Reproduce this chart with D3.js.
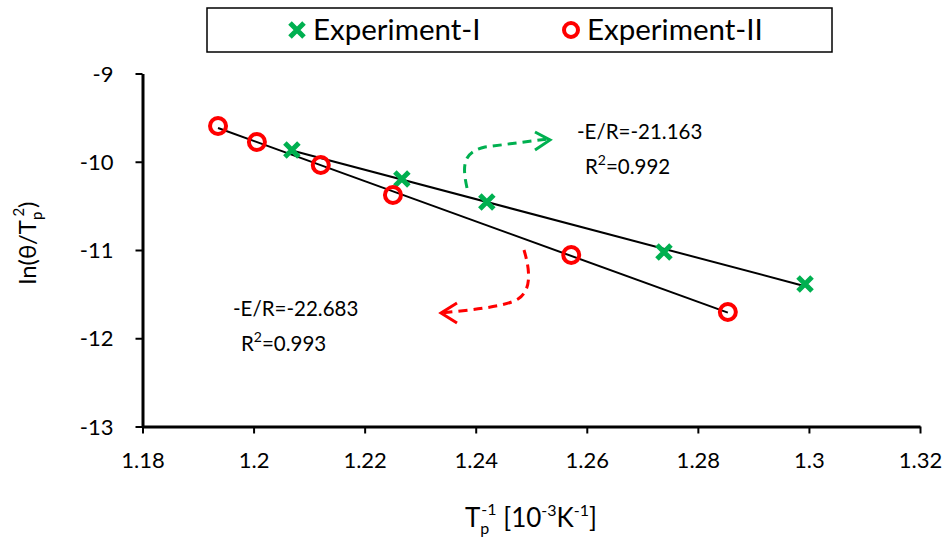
<!DOCTYPE html>
<html>
<head>
<meta charset="utf-8">
<script src="https://cdn.jsdelivr.net/npm/d3@7"></script>
<style>
  body { margin: 0; background: #fff; }
  svg { display: block; font-family: Lato, "Open Sans", sans-serif; }
</style>
</head>
<body>
<svg width="951" height="545"></svg>
<script>
// values
const exp1X = [1.2069, 1.2267, 1.2420, 1.2739, 1.2993];
const exp1Y = [-9.867, -10.195, -10.456, -11.023, -11.385];
const exp2X = [1.1936, 1.2006, 1.2121, 1.2251, 1.2572, 1.2854];
const exp2Y = [-9.595, -9.776, -10.037, -10.377, -11.057, -11.703];
const xTicks = [1.18, 1.2, 1.22, 1.24, 1.26, 1.28, 1.3, 1.32];
const yTicks = [-9, -10, -11, -12, -13];
const seriesNames = ["Experiment-I", "Experiment-II"];
const fitNotes = [["-E/R=-21.163", "0.992"], ["-E/R=-22.683", "0.993"]];

const green = "#00b050";
const red = "#ff0000";

const svg = d3.select("svg");
const x = d3.scaleLinear().domain([1.18, 1.32]).range([142.5, 920]);
const y = d3.scaleLinear().domain([-9, -13]).range([73.5, 426.5]);

// axes
const yAxis = svg.append("g")
  .attr("transform", `translate(${x(1.18)},0)`)
  .call(d3.axisLeft(y).tickValues(yTicks).tickSize(7).tickSizeOuter(0).tickFormat(d => String(d)));
const xAxis = svg.append("g")
  .attr("transform", `translate(0,${y(-13)})`)
  .call(d3.axisBottom(x).tickValues(xTicks).tickSize(7).tickSizeOuter(0).tickFormat(d => String(+d.toFixed(2))));

[yAxis, xAxis].forEach(a => {
  a.select(".domain").attr("stroke", "#000").attr("stroke-width", 3);
  a.selectAll(".tick line").attr("stroke", "#000").attr("stroke-width", 2);
  a.selectAll(".tick text").attr("fill", "#000").style("font-size", "22px").style("font-family", "Lato, sans-serif");
});
yAxis.selectAll(".tick text").attr("x", -29).attr("dy", "0.35em");
xAxis.selectAll(".tick text").attr("y", 26);

// axis titles
const xt = svg.append("text")
  .attr("x", 531).attr("y", 527)
  .attr("text-anchor", "middle")
  .style("font-size", "26px");
xt.append("tspan").text("T");
xt.append("tspan").attr("dy", 7).style("font-size", "16px").text("p");
xt.append("tspan").attr("dx", -8).attr("dy", -19).style("font-size", "16px").text("-1");
xt.append("tspan").attr("dy", 12).text(" [10");
xt.append("tspan").attr("dy", -11).style("font-size", "16px").text("-3");
xt.append("tspan").attr("dy", 11).text("K");
xt.append("tspan").attr("dy", -11).style("font-size", "16px").text("-1");
xt.append("tspan").attr("dy", 11).text("]");

const yt = svg.append("text")
  .attr("transform", "translate(36,243) rotate(-90)")
  .attr("text-anchor", "middle")
  .style("font-size", "24px");
yt.append("tspan").text("ln(θ/T");
yt.append("tspan").attr("dy", 6).style("font-size", "15px").text("p");
yt.append("tspan").attr("dx", -5).attr("dy", -18).style("font-size", "15px").text("2");
yt.append("tspan").attr("dy", 12).text(")");

// least squares trend lines
function fit(xs, ys) {
  const mx = d3.mean(xs), my = d3.mean(ys);
  const b = d3.sum(xs, (v, i) => (v - mx) * (ys[i] - my)) / d3.sum(xs, v => (v - mx) ** 2);
  const [x0, x1] = d3.extent(xs);
  return [[x0, my + b * (x0 - mx)], [x1, my + b * (x1 - mx)]];
}
const line = d3.line().x(d => x(d[0])).y(d => y(d[1]));
svg.append("path").attr("d", line(fit(exp1X, exp1Y)))
  .attr("fill", "none").attr("stroke", "#000").attr("stroke-width", 2);
svg.append("path").attr("d", line(fit(exp2X, exp2Y)))
  .attr("fill", "none").attr("stroke", "#000").attr("stroke-width", 2);

// markers
const crossPath = "M-7,-7L7,7M-7,7L7,-7";
svg.append("g").selectAll("path")
  .data(exp1X.map((v, i) => [v, exp1Y[i]]))
  .join("path")
  .attr("transform", d => `translate(${x(d[0])},${y(d[1])})`)
  .attr("d", crossPath)
  .attr("stroke", green).attr("stroke-width", 5);
svg.append("g").selectAll("circle")
  .data(exp2X.map((v, i) => [v, exp2Y[i]]))
  .join("circle")
  .attr("cx", d => x(d[0])).attr("cy", d => y(d[1]))
  .attr("r", 8).attr("fill", "none")
  .attr("stroke", red).attr("stroke-width", 4);

// legend
const legend = svg.append("g");
legend.append("rect").attr("x", 207).attr("y", 8).attr("width", 625).attr("height", 44)
  .attr("fill", "#fff").attr("stroke", "#000").attr("stroke-width", 1.5);
legend.append("path").attr("transform", "translate(297,30)").attr("d", crossPath)
  .attr("stroke", green).attr("stroke-width", 5);
legend.append("text").attr("x", 313).attr("y", 40).style("font-size", "29.5px").text(seriesNames[0]);
legend.append("circle").attr("cx", 571).attr("cy", 30).attr("r", 7)
  .attr("fill", "none").attr("stroke", red).attr("stroke-width", 4);
legend.append("text").attr("x", 587).attr("y", 40).style("font-size", "29.5px").text(seriesNames[1]);

// annotations
function note(xp, yp, lines) {
  svg.append("text").attr("x", xp).attr("y", yp).style("font-size", "20.5px").text(lines[0]);
  const t = svg.append("text").attr("x", xp + 8).attr("y", yp + 35).style("font-size", "20.5px");
  t.append("tspan").text("R");
  t.append("tspan").attr("dy", -9).style("font-size", "14px").text("2");
  t.append("tspan").attr("dy", 9).text("=" + lines[1]);
}
note(577, 139, fitNotes[0]);
note(233, 316, fitNotes[1]);

// dashed arrows
svg.append("path")
  .attr("d", "M467,188 C462,165 463,152 485,147 L548,139")
  .attr("fill", "none").attr("stroke", green).attr("stroke-width", 3).attr("stroke-dasharray", "9,6");
svg.append("path")
  .attr("d", "M535,132 L550,140 L535,150")
  .attr("fill", "none").attr("stroke", green).attr("stroke-width", 3);
svg.append("path")
  .attr("d", "M524,250 C530,270 532,290 518,299 C505,307 470,310 441,313")
  .attr("fill", "none").attr("stroke", red).attr("stroke-width", 3).attr("stroke-dasharray", "9,6");
svg.append("path")
  .attr("d", "M457,303 L441,313 L457,323")
  .attr("fill", "none").attr("stroke", red).attr("stroke-width", 3);
</script>
</body>
</html>
